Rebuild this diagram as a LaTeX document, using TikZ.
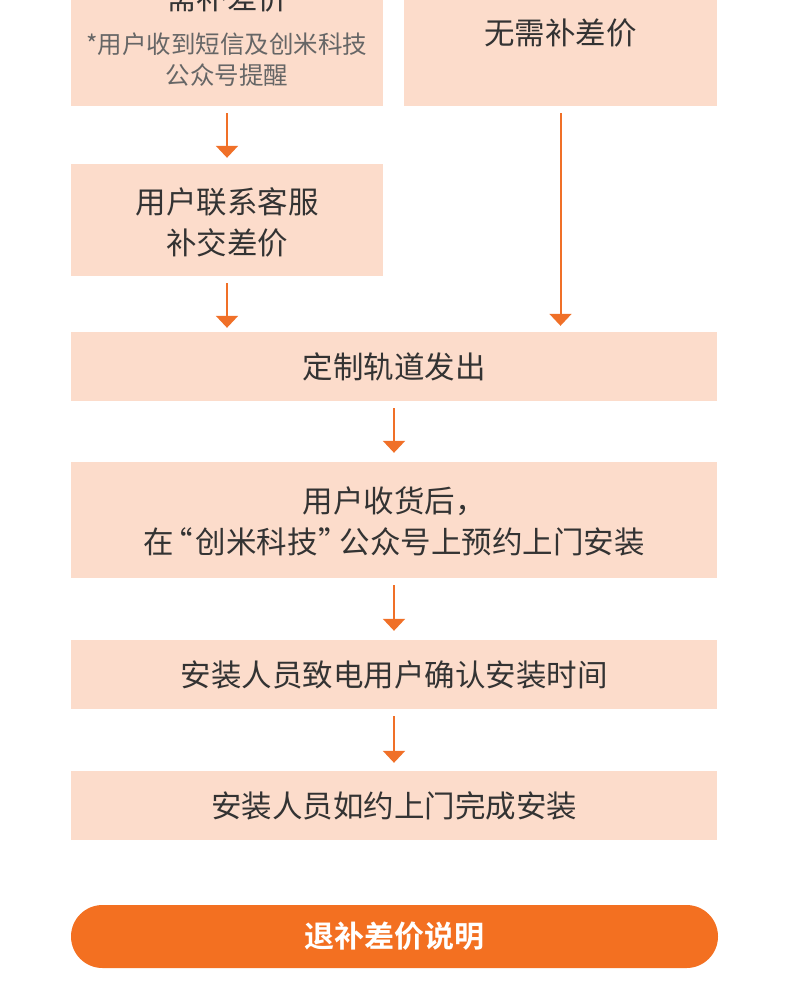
\documentclass[tikz,border=0pt]{standalone}
\usepackage{fontspec}
\setmainfont{Noto Sans CJK SC}[BoldFont={Noto Sans CJK SC Bold}]
\usetikzlibrary{arrows.meta}
\definecolor{peach}{HTML}{FCDCCB}
\definecolor{arr}{HTML}{F07028}
\definecolor{pill}{HTML}{F37021}
\definecolor{txt}{HTML}{333333}
\definecolor{subtxt}{HTML}{666666}
\begin{document}
\begin{tikzpicture}[x=1pt,y=-1pt,
  box/.style={fill=peach, draw=none, inner sep=0pt, text=txt, align=center,
    font=\fontsize{30.5}{41}\selectfont},
  label/.style={text=txt, inner sep=0pt, align=center, font=\fontsize{30.5}{41}\selectfont},
  flow/.style={draw=arr, line width=2pt, -{Triangle[width=22pt,length=12pt]},
    shorten <=7pt, shorten >=6pt}]
\useasboundingbox (0,0) rectangle (790,996);
\clip (0,0) rectangle (790,996);
\fill[white] (0,0) rectangle (790,996);
% top row
\node[box, minimum width=312pt, minimum height=146pt] (need) at (227,33) {};
\node[label] (needt) at (227,-2) {需补差价};
\node[text=subtxt, inner sep=0pt, align=center, font=\fontsize{24.5}{31}\selectfont] (needs) at (227,60) {*用户收到短信及创米科技\\公众号提醒};
\node[box, minimum width=313pt, minimum height=146pt] (noneed) at (560.5,33) {无需补差价};
% second row
\node[box, minimum width=312pt, minimum height=112pt] (contact) at (227,220) {};
\node[label] (contactt) at (227,222.5) {用户联系客服\\补交差价};
% main column
\node[box, minimum width=646pt, minimum height=69pt] (ship) at (394,366.5) {定制轨道发出};
\node[box, minimum width=646pt, minimum height=116pt] (book) at (394,520) {};
\node[label] (bookt) at (394,521.5) {用户收货后，\\在\kern-11pt“\kern2.5pt 创米科技\kern1pt”\kern-9.5pt 公众号上预约上门安装};
\node[box, minimum width=646pt, minimum height=69pt] (call) at (394,674.5) {安装人员致电用户确认安装时间};
\node[box, minimum width=646pt, minimum height=69pt] (done) at (394,805.5) {安装人员如约上门完成安装};
\node[fill=pill, rounded corners=31.5pt, inner sep=0pt, minimum width=647pt, minimum height=63pt,
  text=white, font=\fontsize{30}{30}\selectfont\bfseries] (refund) at (394.5,936.5) {退补差价说明};
% connectors
\draw[flow] (need.south) -- (contact.north);
\draw[flow, shorten >=4pt] (contact.south) -- (contact.south |- ship.north);
\draw[flow] (noneed.south) -- (noneed.south |- ship.north);
\draw[flow, shorten >=9pt] (ship.south) -- (book.north);
\draw[flow, shorten >=9pt] (book.south) -- (call.north);
\draw[flow, shorten >=8pt] (call.south) -- (done.north);
\end{tikzpicture}
\end{document}
